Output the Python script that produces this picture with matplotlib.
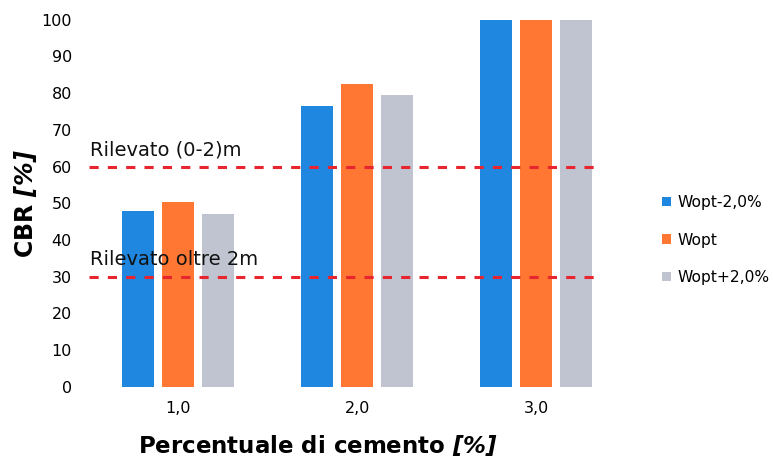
import numpy as np
import matplotlib.pyplot as plt

# CBR vs cement percentage for three water contents
categories = ['1,0', '2,0', '3,0']
series_names = ['Wopt-2,0%', 'Wopt', 'Wopt+2,0%']
cbr_minus = [48, 76.5, 100]
cbr_opt = [50.5, 82.5, 100]
cbr_plus = [47, 79.5, 100]
thresholds = [60, 30]
threshold_labels = ['Rilevato (0-2)m', 'Rilevato oltre 2m']

colors = ['#1f87e0', '#ff7733', '#c0c4d0']

plt.rcParams['font.family'] = ['DejaVu Sans']
# the "[%]" unit is set in italic through mathtext (symbols use the rm slot)
plt.rcParams['mathtext.fontset'] = 'custom'
plt.rcParams['mathtext.rm'] = 'DejaVu Sans:italic:bold'
plt.rcParams['mathtext.it'] = 'DejaVu Sans:italic:bold'

fig = plt.figure(figsize=(7.73, 4.59), dpi=100)
ax = fig.add_axes([0.1145, 0.157, 0.695, 0.80])

x = np.arange(len(categories))
width = 0.18
step = 0.223
for i, (vals, name) in enumerate(zip([cbr_minus, cbr_opt, cbr_plus], series_names)):
    ax.bar(x + (i - 1) * step, vals, width, color=colors[i], label=name)

# reference levels
for y, lab in zip(thresholds, threshold_labels):
    ax.axhline(y, xmin=0.0, xmax=0.953, color='#e8242e', lw=2.2,
               ls=(0, (3, 3)), zorder=3)
    ax.text(-0.49, y + 2.0, lab, fontsize=14, color='#111111', va='bottom')

ax.set_xlim(-0.5, 2.5)
ax.set_ylim(0, 100)
ax.set_yticks(range(0, 101, 10))
ax.set_xticks(x)
ax.set_xticklabels(categories, fontsize=11.5)
ax.tick_params(axis='y', labelsize=11.5, length=0, pad=12)
ax.tick_params(axis='x', length=0, pad=10)
for s in ax.spines.values():
    s.set_visible(False)

ax.set_ylabel(r'CBR $\mathit{[\%]}$', fontsize=17, fontweight='bold')
ax.yaxis.set_label_coords(-0.093, 0.5)
ax.set_xlabel(r'Percentuale di cemento $\mathit{[\%]}$', fontsize=16.5,
              fontweight='bold')
ax.xaxis.set_label_coords(0.427, -0.125)

ax.legend(loc='center left', bbox_to_anchor=(1.068, 0.40), frameon=False,
          fontsize=11.2, handlelength=0.55, handleheight=0.55, labelspacing=1.45,
          handletextpad=0.4, borderaxespad=0, borderpad=0)

fig.savefig('out.png', dpi=100)
